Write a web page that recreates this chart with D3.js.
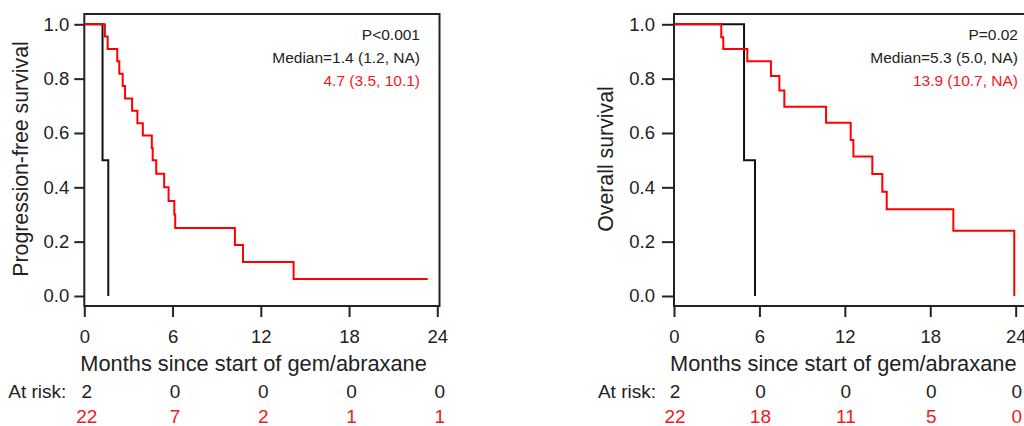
<!DOCTYPE html>
<html>
<head>
<meta charset="utf-8">
<script src="https://cdn.jsdelivr.net/npm/d3@7"></script>
<style>
  body { margin: 0; background: #fff; }
  svg { display: block; font-family: "Liberation Sans", Arial, Helvetica, sans-serif; }
</style>
</head>
<body>
<div id="chart"></div>
<script>
// axis ticks
const monthTicks = [0, 6, 12, 18, 24];
const survTicks = [0, 0.2, 0.4, 0.6, 0.8, 1.0];

// progression-free survival (event time in months, survival after it)
const pfsBlackTimes = [1.24, 1.63];
const pfsBlackSurv = [0.5, 0];
const pfsRedTimes = [1.40, 1.59, 2.24, 2.38, 2.61, 2.77, 3.25, 3.61, 3.98, 4.59, 4.65,
                     4.89, 5.43, 5.73, 6.12, 6.18, 10.24, 10.79, 14.23];
const pfsRedSurv = [0.955, 0.909, 0.864, 0.818, 0.773, 0.727, 0.682, 0.636, 0.591, 0.545, 0.5,
                    0.45, 0.40, 0.35, 0.30, 0.25, 0.1875, 0.125, 0.0625];
const pfsRedEnd = 23.35;
const pfsRiskBlack = [2, 0, 0, 0, 0];
const pfsRiskRed = [22, 7, 2, 1, 1];
const pfsNotes = ["P<0.001", "Median=1.4 (1.2, NA)", "4.7 (3.5, 10.1)"];

// overall survival
const osBlackTimes = [4.92, 5.69];
const osBlackSurv = [0.5, 0];
const osRedTimes = [3.32, 3.46, 5.15, 6.81, 7.40, 7.75, 10.68, 12.41, 12.60, 13.93,
                    14.63, 14.94, 19.62, 23.90];
const osRedSurv = [0.952, 0.909, 0.864, 0.810, 0.756, 0.697, 0.638, 0.574, 0.513, 0.449,
                   0.384, 0.319, 0.240, 0];
const osRedEnd = 23.90;
const osRiskBlack = [2, 0, 0, 0, 0];
const osRiskRed = [22, 18, 11, 5, 0];
const osNotes = ["P=0.02", "Median=5.3 (5.0, NA)", "13.9 (10.7, NA)"];

const xTitle = "Months since start of gem/abraxane";

const W = 1024, H = 426;
const ink = "#222", red = "#ff0000", redText = "#f2181c";

const svg = d3.select("#chart").append("svg")
    .attr("width", W)
    .attr("height", H);

function stepPoints(times, surv, end) {
    let pts = [[0, 1]];
    times.forEach((t, i) => pts.push([t, surv[i]]));
    if (end != null && end > times[times.length - 1]) pts.push([end, surv[surv.length - 1]]);
    return pts;
}

function drawPanel(p) {
    const x = d3.scaleLinear().domain([0, 24]).range([p.x0, p.x24]);
    const y = d3.scaleLinear().domain([0, 1]).range([296, 24.3]);
    const top = 14, bottom = 306;
    const g = svg.append("g");

    // y ticks
    const yAxis = g.append("g")
        .attr("transform", `translate(${p.x0},0)`)
        .call(d3.axisLeft(y).tickValues(survTicks).tickFormat(d3.format(".1f"))
            .tickSize(p.yTick).tickPadding(p.yPad));
    // x ticks
    const xAxis = g.append("g")
        .attr("transform", `translate(0,${bottom})`)
        .call(d3.axisBottom(x).tickValues(monthTicks).tickSize(11).tickPadding(12.5));
    [yAxis, xAxis].forEach(a => {
        a.select(".domain").remove();
        a.selectAll(".tick line").attr("stroke", ink).attr("stroke-width", 2);
        a.selectAll(".tick text").attr("fill", ink).style("font-size", "18.5px");
    });

    // frame
    g.append("rect")
        .attr("x", p.x0).attr("y", top)
        .attr("width", p.frameRight - p.x0).attr("height", bottom - top)
        .attr("fill", "none").attr("stroke", ink).attr("stroke-width", 2);

    const line = d3.line()
        .x(d => x(d[0]))
        .y(d => y(d[1]))
        .curve(d3.curveStepAfter);

    g.append("path")
        .attr("d", line(stepPoints(p.blackTimes, p.blackSurv, null)))
        .attr("fill", "none").attr("stroke", "#111").attr("stroke-width", 2);
    g.append("path")
        .attr("d", line(stepPoints(p.redTimes, p.redSurv, p.redEnd)))
        .attr("fill", "none").attr("stroke", red).attr("stroke-width", 2);

    // annotations
    g.selectAll(".note").data(p.notes).join("text")
        .attr("x", p.noteX)
        .attr("y", (d, i) => 40 + i * 23)
        .attr("text-anchor", "end")
        .attr("fill", (d, i) => i === 2 ? redText : ink)
        .style("font-size", "15.5px")
        .text(d => d);

    // y title
    g.append("text")
        .attr("transform", `translate(${p.yTitleX},159) rotate(-90)`)
        .attr("text-anchor", "middle")
        .attr("fill", ink)
        .style("font-size", "21.3px")
        .text(p.yTitle);

    // x title
    g.append("text")
        .attr("x", p.x0 - 4).attr("y", 371)
        .attr("fill", ink)
        .style("font-size", "21.8px")
        .text(xTitle);

    // at risk table
    g.append("text")
        .attr("x", p.x0 - 18).attr("y", 398)
        .attr("text-anchor", "end")
        .attr("fill", ink)
        .style("font-size", "19px")
        .text("At risk:");
    [[p.riskBlack, ink, 398], [p.riskRed, redText, 423]].forEach(([vals, col, yy]) => {
        g.selectAll(null).data(vals).join("text")
            .attr("x", (d, i) => x(monthTicks[i]) + p.riskShift)
            .attr("y", yy)
            .attr("text-anchor", "middle")
            .attr("fill", col)
            .style("font-size", "19px")
            .text(d => d);
    });
}

drawPanel({
    x0: 84.3, x24: 437.3, frameRight: 439.5,
    yTick: 10, yPad: 5, yTitleX: 28, yTitle: "Progression-free survival",
    noteX: 420, notes: pfsNotes, riskShift: 2.5,
    blackTimes: pfsBlackTimes, blackSurv: pfsBlackSurv,
    redTimes: pfsRedTimes, redSurv: pfsRedSurv, redEnd: pfsRedEnd,
    riskBlack: pfsRiskBlack, riskRed: pfsRiskRed
});

drawPanel({
    x0: 674, x24: 1015.7, frameRight: 1030,
    yTick: 12, yPad: 7, yTitleX: 613, yTitle: "Overall survival",
    noteX: 1018, notes: osNotes, riskShift: 1,
    blackTimes: osBlackTimes, blackSurv: osBlackSurv,
    redTimes: osRedTimes, redSurv: osRedSurv, redEnd: osRedEnd,
    riskBlack: osRiskBlack, riskRed: osRiskRed
});
</script>
</body>
</html>
